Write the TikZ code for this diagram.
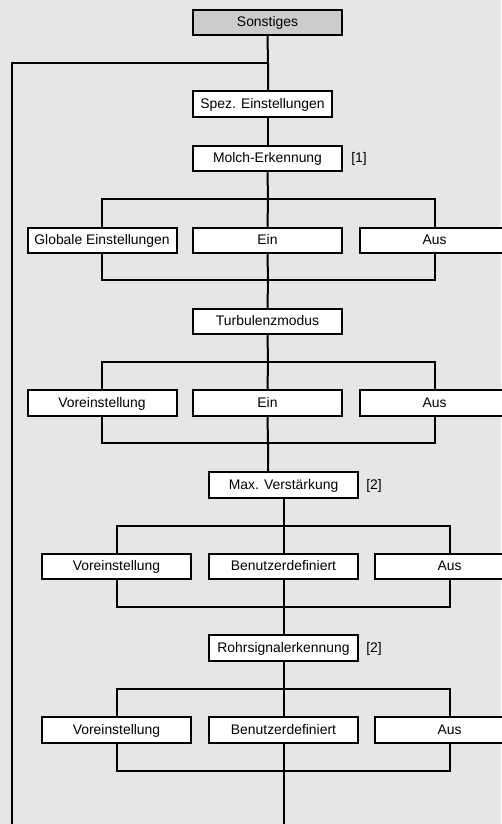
\documentclass[tikz,border=0pt]{standalone}
\usepackage{fontspec}
\setmainfont{Liberation Sans}
\definecolor{bg}{HTML}{E6E6E6}
\definecolor{topfill}{HTML}{CCCCCC}
\begin{document}
\begin{tikzpicture}[x=1pt,y=-1pt,
  font=\fontsize{13.9}{16}\selectfont,
  box/.style={draw=black,fill=white,line width=2pt,minimum width=149pt,minimum height=25.5pt,inner sep=0pt,text height=10pt,text depth=1.6pt},
  conn/.style={draw=black,line width=2pt},
  note/.style={inner sep=0pt,text height=10pt,text depth=1.6pt}]
\fill[bg] (0,0) rectangle (501,824);
\useasboundingbox (0,0) rectangle (501,824);
% nodes
\node[box,fill=topfill] (sonst) at (267.5,22.5) {Sonstiges};
\node[box,minimum width=139pt] (spez) at (262.5,104) {Spez. Einstellungen};
\node[box] (molch) at (267.5,158.5) {Molch-Erkennung};
\node[note] (n1) at (359,158.5) {[1]};
\node[box] (glob) at (102,240.5) {Globale Einstellungen};
\node[box] (ein1) at (267.5,240.5) {Ein};
\node[box] (aus1) at (434.5,240.5) {Aus};
\node[box] (turb) at (267.5,321.5) {Turbulenzmodus};
\node[box] (vor2) at (102,403) {Voreinstellung};
\node[box] (ein2) at (267.5,403) {Ein};
\node[box] (aus2) at (434.5,403) {Aus};
\node[box] (max) at (283.5,485) {Max. Verstärkung};
\node[note] (n2) at (374,485) {[2]};
\node[box] (vor3) at (116.5,566.5) {Voreinstellung};
\node[box] (ben3) at (283.5,566.5) {Benutzerdefiniert};
\node[box] (aus3) at (449.5,566.5) {Aus};
\node[box] (rohr) at (283.5,648) {Rohrsignalerkennung};
\node[note] (n3) at (374,648) {[2]};
\node[box] (vor4) at (116.5,730) {Voreinstellung};
\node[box] (ben4) at (283.5,730) {Benutzerdefiniert};
\node[box] (aus4) at (449.5,730) {Aus};
% coordinates
\coordinate (c0) at (268,63);
\coordinate (lt) at (11.5,63);
\coordinate (lb) at (11.5,826);
\coordinate (b1) at (268,199);
\coordinate (m1) at (268,280);
\coordinate (b2) at (268,362);
\coordinate (m2) at (268,443);
\coordinate (b3) at (283.5,526);
\coordinate (m3) at (283.5,607);
\coordinate (b4) at (283.5,689);
\coordinate (m4) at (283.5,771);
\coordinate (bot) at (283.5,826);
% connectors
\draw[conn] (sonst.south) -- (c0) -- (c0 |- spez.north);
\draw[conn] (c0) -- (lt) -- (lb);
\draw[conn] (molch.north |- spez.south) -- (molch.north);
\draw[conn] (molch.south) -- (b1) -- (ein1.north);
\draw[conn] (glob.north) |- (b1) -| (aus1.north);
\draw[conn] (glob.south) |- (m1) -| (aus1.south);
\draw[conn] (ein1.south) -- (m1) -- (turb.north);
\draw[conn] (turb.south) -- (b2) -- (ein2.north);
\draw[conn] (vor2.north) |- (b2) -| (aus2.north);
\draw[conn] (vor2.south) |- (m2) -| (aus2.south);
\draw[conn] (ein2.south) -- (m2) -- (m2 |- max.north);
\draw[conn] (max.south) -- (b3) -- (ben3.north);
\draw[conn] (vor3.north) |- (b3) -| (aus3.north);
\draw[conn] (vor3.south) |- (m3) -| (aus3.south);
\draw[conn] (ben3.south) -- (m3) -- (rohr.north);
\draw[conn] (rohr.south) -- (b4) -- (ben4.north);
\draw[conn] (vor4.north) |- (b4) -| (aus4.north);
\draw[conn] (vor4.south) |- (m4) -| (aus4.south);
\draw[conn] (ben4.south) -- (m4) -- (bot);
\end{tikzpicture}
\end{document}
